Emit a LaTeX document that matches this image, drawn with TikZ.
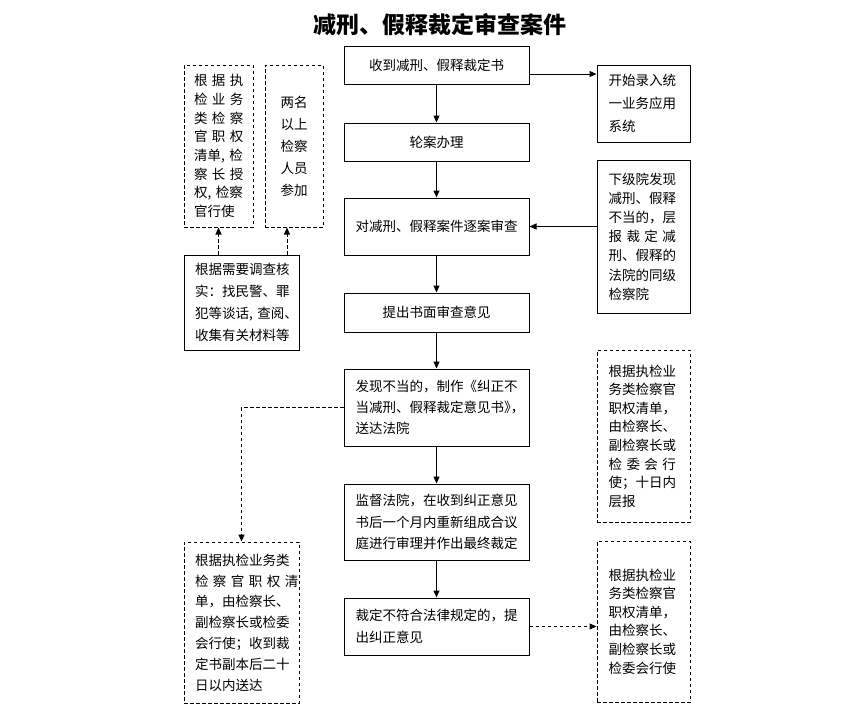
\documentclass[tikz,border=0pt]{standalone}
\usepackage{fontspec}
\setmainfont{Noto Sans CJK SC}
\usepackage{tikz}
\usetikzlibrary{arrows.meta,calc}

\tikzset{
  box/.style={draw=black, line width=1pt, inner sep=0pt},
  dbox/.style={box, dash pattern=on 3.5pt off 2.5pt},
  txt/.style={font=\fontsize{13.5}{#1}\selectfont},
  arr/.style={line width=1pt, -{Triangle[length=7pt,width=6pt]}},
  darr/.style={arr, dash pattern=on 3.5pt off 2.5pt},
}
\newcommand\sline[2]{\makebox[#1][s]{#2}}

\begin{document}
\begin{tikzpicture}[x=1pt,y=-1pt]
\useasboundingbox (0,0) rectangle (856,707);
\node (title) at (440,25) [font=\fontsize{23}{28}\selectfont\bfseries] {减刑、假释裁定审查案件};
% main column
\node (n1) at (436.5,65)  [box, minimum width=185pt, minimum height=38pt, txt=19] {收到减刑、假释裁定书};
\node (n2) at (436.5,142) [box, minimum width=185pt, minimum height=38pt, txt=19] {轮案办理};
\node (n3) at (436.5,226.5) [box, minimum width=185pt, minimum height=57pt, txt=19] {对减刑、假释案件逐案审查};
\node (n4) at (436.5,312.5) [box, minimum width=185pt, minimum height=39pt, txt=19] {提出书面审查意见};
\node (n5) at (436.5,407.5) [box, minimum width=185pt, minimum height=77pt, text width=162pt, align=left, txt=21]
  {发现不当的，制作《纠正不\\当减刑、假释裁定意见书{\addfontfeature{RawFeature=+halt}》，}\\送达法院};
\node (n6) at (436.5,522) [box, minimum width=185pt, minimum height=76pt, text width=162pt, align=left, txt=21.5]
  {监督法院，在收到纠正意见\\书后一个月内重新组成合议\\庭进行审理并作出最终裁定};
\node (n7) at (436.5,626.5) [box, minimum width=185pt, minimum height=57pt, text width=162pt, align=left, txt=22]
  {裁定不符合法律规定的，提\\出纠正意见};
% right column
\node (r1) at (643.5,103.5) [box, minimum width=93pt, minimum height=77pt, text width=70pt, align=left, txt=23]
  {开始录入统\\一业务应用\\系统};
\node (r2) at (643.5,236.5) [box, minimum width=93pt, minimum height=153pt, text width=70pt, align=left, txt=19.2]
  {下级院发现\\减刑、假释\\不当的，层\\\sline{70pt}{报 裁 定 减}\\刑、假释的\\法院的同级\\检察院};
\node (r3) at (643.5,436) [dbox, minimum width=93pt, minimum height=172pt, text width=70pt, align=left, txt=18.6]
  {根据执检业\\务类检察官\\职权清单，\\由检察长、\\副检察长或\\\sline{70pt}{检 委 会 行}\\使；十日内\\层报};
\node (r4) at (643.5,621.5) [dbox, minimum width=93pt, minimum height=161pt, text width=70pt, align=left, txt=18.6]
  {根据执检业\\务类检察官\\职权清单，\\由检察长、\\副检察长或\\检委会行使};
% left column
\node (a) at (218.5,146) [dbox, minimum width=69pt, minimum height=162pt, text width=49pt, align=left, txt=18.7]
  {\sline{49pt}{根 据 执}\\\sline{49pt}{检 业 务}\\\sline{49pt}{类 检 察}\\\sline{49pt}{官 职 权}\\\sline{49pt}{清单, 检}\\\sline{49pt}{察 长 授}\\\sline{49pt}{权, 检察}\\官行使};
\node (b) at (294,146) [dbox, minimum width=58pt, minimum height=162pt, align=center, txt=22]
  {两名\\以上\\检察\\人员\\参加};
\node (c) at (241.5,302.5) [box, minimum width=115pt, minimum height=95pt, text width=93pt, align=left, txt=22]
  {根据需要调查核\\实：找民警、罪\\\sline{93pt}{犯等谈话, 查阅、}\\收集有关材料等};
\node (d) at (241.5,622.5) [dbox, minimum width=115pt, minimum height=161pt, text width=93pt, align=left, txt=20.8]
  {根据执检业务类\\\sline{93pt}{检 察 官 职 权 清}\\单，由检察长、\\副检察长或检委\\会行使；收到裁\\定书副本后二十\\日以内送达};
\coordinate (bfoot) at ([xshift=-7pt]b.south);
% connectors
\foreach \p/\q in {n1/n2,n2/n3,n3/n4,n4/n5,n5/n6,n6/n7}
  \draw[arr] (\p) -- (\q);
\draw[arr] ([yshift=-9pt]n1.east) -- ([yshift=-9pt]n1.east -| r1.west);
\draw[arr] (r2.west |- n3.east) -- (n3.east);
\draw[darr] (c.north -| a.south) -- (a.south);
\draw[darr] (c.north -| bfoot) -- (bfoot);
\draw[darr] (n5.west) -| (d.north);
\draw[darr] (n7.east) -- (n7.east -| r4.west);
\end{tikzpicture}
\end{document}
